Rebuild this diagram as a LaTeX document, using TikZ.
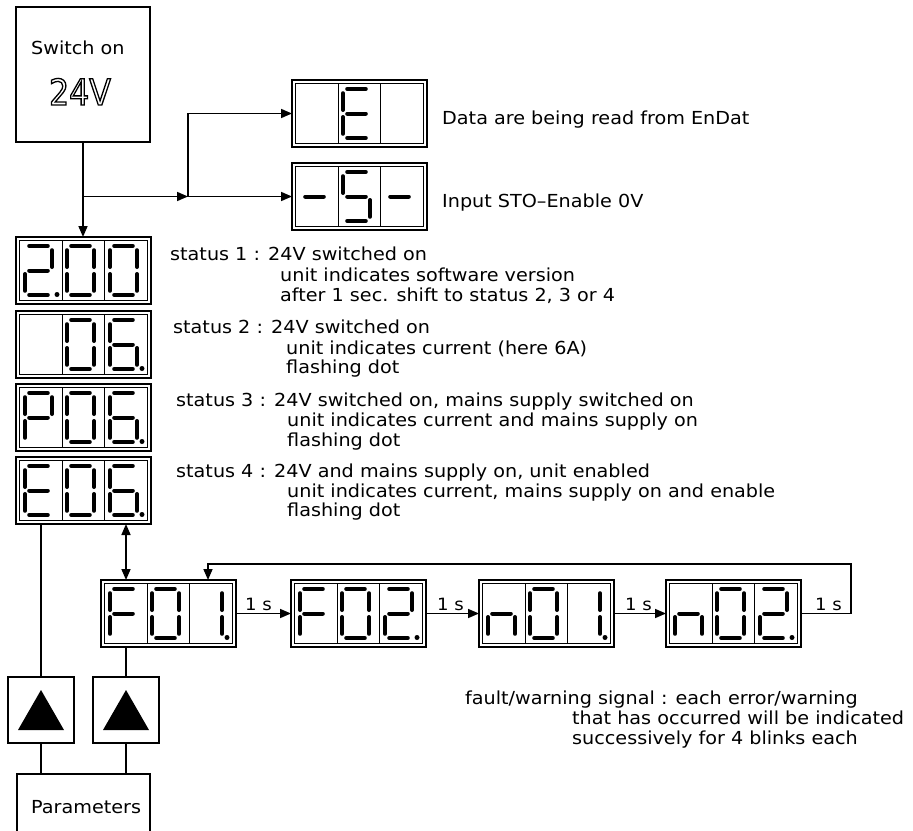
\documentclass[tikz,border=0pt]{standalone}
\usepackage{fontspec}
\usetikzlibrary{arrows.meta,calc}
\newfontfamily\cad{DejaVu Sans}[FakeStretch=1.07]
\newfontfamily\cadbig{DejaVu Sans}[FakeStretch=0.88]
\newcommand{\outlinetext}[1]{\special{pdf:literal direct 1 Tr 1.3 w}#1\special{pdf:literal direct 0 Tr}}

\tikzset{
 conn/.style={line width=1.6bp},
 arr/.style={-{Triangle[length=11bp,width=9bp]}},
 dblarr/.style={{Triangle[length=11bp,width=9bp]}-{Triangle[length=11bp,width=9bp]}},
 dispbox/.style={draw, line width=1.8bp, minimum width=135bp, minimum height=67bp, inner sep=0pt, outer sep=0pt},
 thinl/.style={line width=1bp},
 sg/.style={line width=4bp, line cap=round},
 txt/.style={anchor=base west, inner sep=0pt, font=\cad\fontsize{18}{20}\selectfont},
 lbl/.style={anchor=base west, inner sep=0pt, font=\cad\fontsize{17}{18}\selectfont},
 btn/.style={draw, line width=1.5bp, minimum width=66bp, minimum height=66bp, inner sep=0pt, outer sep=0pt},
}

% seven segments: width 27, height 49
\newcommand{\sA}{\draw[sg] (4.2,0) -- (22.8,0);}
\newcommand{\sB}{\draw[sg] (27,4.2) -- (27,21);}
\newcommand{\sC}{\draw[sg] (27,28) -- (27,44.8);}
\newcommand{\sD}{\draw[sg] (4.2,49) -- (22.8,49);}
\newcommand{\sE}{\draw[sg] (0,28) -- (0,44.8);}
\newcommand{\sF}{\draw[sg] (0,4.2) -- (0,21);}
\newcommand{\sG}{\draw[sg] (4.2,24.5) -- (22.8,24.5);}

\newcommand{\Dzero}{\sA\sB\sC\sD\sE\sF}
\newcommand{\Dtwo}{\sA\sB\sG\sE\sD}
\newcommand{\Dsix}{\sA\sF\sG\sE\sD\sC}
\newcommand{\Done}{\sB\sC}
\newcommand{\DP}{\sA\sB\sF\sG\sE}
\newcommand{\DE}{\sA\sF\sG\sE\sD}
\newcommand{\DF}{\sA\sF\sG\sE}
\newcommand{\Dn}{\sE\sG\sC}
\newcommand{\DS}{\sA\sF\sG\sC\sD}
\newcommand{\Dminus}{\sG}
\newcommand{\Dblank}{}

\newcommand{\disp}[7]{%
 \node[dispbox] (#1) at ({#2+67.5},{#3+33.5}) {};
 \draw[thinl] ($(#1.north west)+(3.5,3.5)$) rectangle ($(#1.south east)+(-3.5,-3.5)$);
 \draw[thinl] ({#2+46},{#3+3.5}) -- ({#2+46},{#3+63.5});
 \draw[thinl] ({#2+88},{#3+3.5}) -- ({#2+88},{#3+63.5});
 \begin{scope}[shift={({#2+9},{#3+9})}]#4\end{scope}
 \begin{scope}[shift={({#2+51},{#3+9})}]#5\end{scope}
 \begin{scope}[shift={({#2+94},{#3+9})}]#6\end{scope}
 \ifnum#7>0 \fill ({#2+41+42.5*(#7-1)},{#3+57.5}) circle (2.5);\fi
}

\begin{document}
\begin{tikzpicture}[x=1bp,y=-1bp]
\useasboundingbox (0,0) rectangle (913,831);

% switch on box
\node[draw, line width=1.5bp, minimum width=134bp, minimum height=135bp, inner sep=0pt, outer sep=0pt] (sw) at (83,74.5) {};
\node[txt] (swt) at (31,54) {Switch on};
\node[anchor=base, inner sep=0pt, font=\cadbig\fontsize{36}{36}\selectfont] (sw24) at (80,105) {\outlinetext{24V}};

% displays
\disp{dE}{292}{80}{\Dblank}{\DE}{\Dblank}{0}
\disp{dS}{292}{163}{\Dminus}{\DS}{\Dminus}{0}
\disp{d1}{16}{237}{\Dtwo}{\Dzero}{\Dzero}{1}
\disp{d2}{16}{311}{\Dblank}{\Dzero}{\Dsix}{3}
\disp{d3}{16}{384}{\DP}{\Dzero}{\Dsix}{3}
\disp{d4}{16}{457}{\DE}{\Dzero}{\Dsix}{3}
\disp{f1}{101}{580}{\DF}{\Dzero}{\Done}{3}
\disp{f2}{291}{580}{\DF}{\Dzero}{\Dtwo}{3}
\disp{f3}{479}{580}{\Dn}{\Dzero}{\Done}{3}
\disp{f4}{666}{580}{\Dn}{\Dzero}{\Dtwo}{3}

% top connectors
\coordinate (j1) at (83,196.5);
\coordinate (j2) at (188,196.5);
\coordinate (j3) at (188,113.5);
\draw[conn,arr] (sw.south) -- (sw.south |- d1.north);
\draw[conn,arr] (j1) -- (j2);
\draw[conn,arr] (j2) -- (dS.west);
\draw[conn,arr] (j2) -- (j3) -- (dE.west);

\node[txt] (tE) at (442,124) {Data are being read from EnDat};
\node[txt] (tS) at (442,207) {Input STO–Enable 0V};

% status texts
\node[txt] (s1a) at (170,260) {status 1 : 24V switched on};
\node[txt] (s1b) at (280,281) {unit indicates software version};
\node[txt] (s1c) at (280,301) {after 1 sec. shift to status 2, 3 or 4};
\node[txt] (s2a) at (173,333) {status 2 : 24V switched on};
\node[txt] (s2b) at (286,354) {unit indicates current (here 6A)};
\node[txt] (s2c) at (286,373) {flashing dot};
\node[txt] (s3a) at (176,406) {status 3 : 24V switched on, mains supply switched on};
\node[txt] (s3b) at (287,426) {unit indicates current and mains supply on};
\node[txt] (s3c) at (287,446) {flashing dot};
\node[txt] (s4a) at (176,477) {status 4 : 24V and mains supply on, unit enabled};
\node[txt] (s4b) at (287,497) {unit indicates current, mains supply on and enable};
\node[txt] (s4c) at (287,516) {flashing dot};

% E06 <-> F01
\draw[conn,dblarr] ($(d4.south west)+(110,0)$) -- ($(f1.north west)+(25,0)$);

% fault row
\draw[conn,arr] (f1.east) -- (f2.west);
\draw[conn,arr] (f2.east) -- (f3.west);
\draw[conn,arr] (f3.east) -- (f4.west);
\coordinate (l1) at (851,613.5);
\coordinate (l2) at (851,564);
\coordinate (l3) at (208,564);
\draw[conn,arr] (f4.east) -- (l1) -- (l2) -- (l3) -- (l3 |- f1.north);
\node[lbl] (ls1) at (245,610) {1 s};
\node[lbl] (ls2) at (437,610) {1 s};
\node[lbl] (ls3) at (625,610) {1 s};
\node[lbl] (ls4) at (815,610) {1 s};

\node[txt] (fa) at (465,704) {fault/warning signal : each error/warning};
\node[txt] (fb) at (572,724) {that has occurred will be indicated};
\node[txt] (fc) at (572,744) {successively for 4 blinks each};

% buttons
\node[btn] (bL) at (41,710) {};
\node[btn] (bR) at (126,710) {};
\fill ($(bL.center)+(0,-20)$) -- ($(bL.center)+(-23,20)$) -- ($(bL.center)+(23,20)$) -- cycle;
\fill ($(bR.center)+(0,-20)$) -- ($(bR.center)+(-23,20)$) -- ($(bR.center)+(23,20)$) -- cycle;
\draw[conn] ($(d4.south west)+(25,0)$) -- (bL.north);
\draw[conn] ($(f1.south west)+(25,0)$) -- (bR.north);

% parameters
\coordinate (pL) at (17,774);
\coordinate (pR) at (150,774);
\draw[line width=1.5bp] (17,840) -- (pL) -- (pR) -- (150,840);
\draw[conn] (bL.south) -- (bL.south |- pL);
\draw[conn] (bR.south) -- (bR.south |- pL);
\node[txt] (part) at (31,813) {Parameters};
\end{tikzpicture}
\end{document}
